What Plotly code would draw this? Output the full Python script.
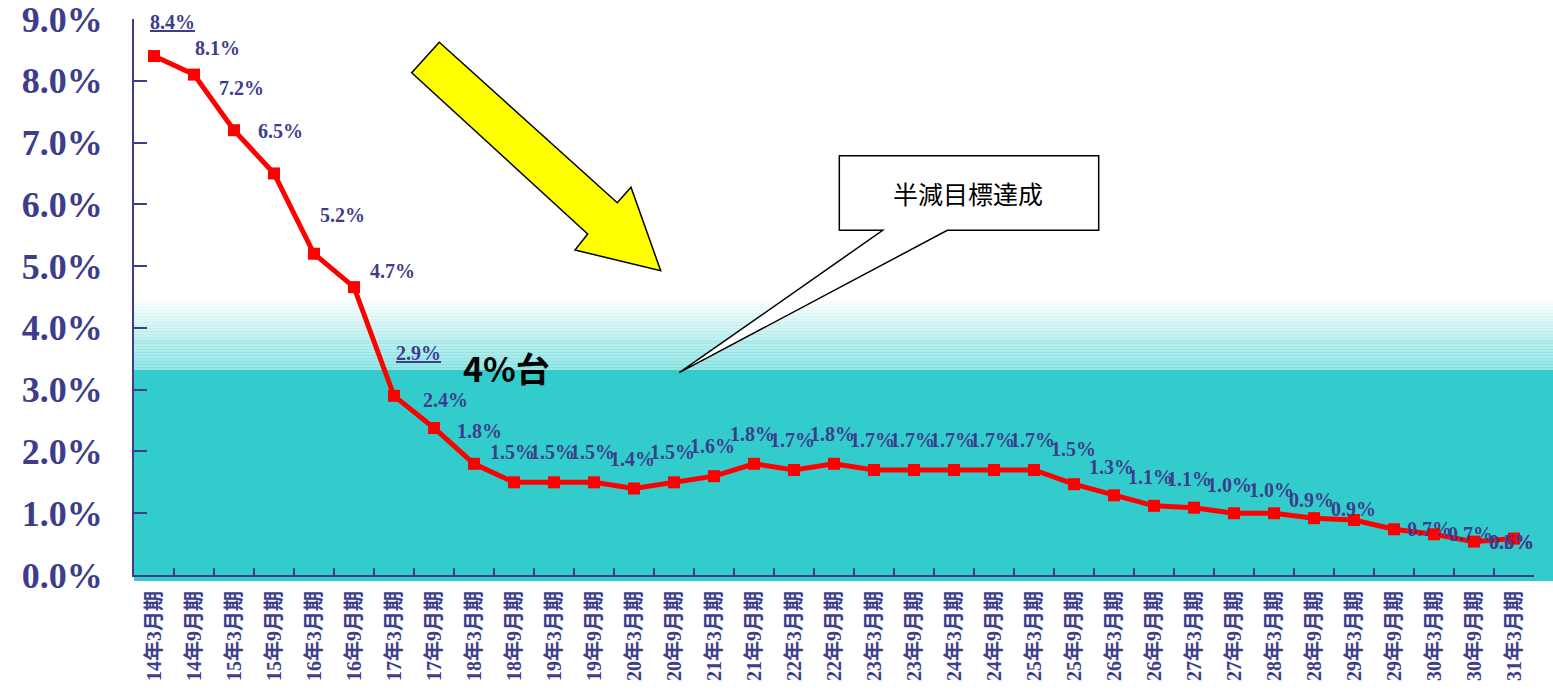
import plotly.graph_objects as go

# ---------------- data ----------------
periods = [
    "14年3月期", "14年9月期", "15年3月期", "15年9月期", "16年3月期", "16年9月期",
    "17年3月期", "17年9月期", "18年3月期", "18年9月期", "19年3月期", "19年9月期",
    "20年3月期", "20年9月期", "21年3月期", "21年9月期", "22年3月期", "22年9月期",
    "23年3月期", "23年9月期", "24年3月期", "24年9月期", "25年3月期", "25年9月期",
    "26年3月期", "26年9月期", "27年3月期", "27年9月期", "28年3月期", "28年9月期",
    "29年3月期", "29年9月期", "30年3月期", "30年9月期", "31年3月期",
]
ratio = [
    8.4, 8.1, 7.2, 6.5, 5.2, 4.66, 2.9, 2.38, 1.8, 1.5, 1.5, 1.5,
    1.4, 1.5, 1.6, 1.8, 1.7, 1.8, 1.7, 1.7, 1.7, 1.7, 1.7, 1.47,
    1.29, 1.12, 1.09, 1.0, 1.0, 0.92, 0.89, 0.74, 0.66, 0.54, 0.59,
]
y_ticks = [0, 1, 2, 3, 4, 5, 6, 7, 8, 9]
underlined = [0, 6]  # labels shown underlined (8.4%, 2.9%)
callout_text = "半減目標達成"
band_text = "4%台"

# ---------------- style ----------------
NAVY = "#3D3D8C"
TEAL = "#33CCCC"
SERIF = "Liberation Serif, Times New Roman, Noto Sans CJK JP, serif"
SANS = "Noto Sans CJK JP, Noto Sans, sans-serif"

W, H = 1553, 691
L, R, T, B = 134, 19, 19, 116
PW, PH = W - L - R, H - T - B


def px(x):
    return (x - L) / PW


def py(y):
    return (H - B - y) / PH


# label pixel shifts (dx right, dy up) relative to each point
label_shift = {
    0: (18, 34), 1: (23, 27), 2: (7, 42), 3: (6, 42), 4: (28, 39), 5: (38, 16),
    6: (24, 43), 7: (11, 28), 8: (5, 33), 23: (-1, 35), 24: (-3, 28),
    25: (-4, 29), 26: (-5, 29), 27: (-5, 28), 28: (-3, 23), 29: (-3, 18),
    30: (-1, 11), 31: (35, 0), 32: (36, 0), 33: (37, 0), 34: (-3, -3),
}

fig = go.Figure()
fig.add_trace(go.Scatter(
    x=periods, y=ratio, mode="lines+markers",
    line=dict(color="#FF0000", width=5),
    marker=dict(symbol="square", size=12, color="#FF0000"),
    hoverinfo="skip", showlegend=False,
))

annotations = []
for i, (p, v) in enumerate(zip(periods, ratio)):
    dx, dy = label_shift.get(i, (-2, 30))
    txt = f"{v:.1f}%"
    if i in underlined:
        txt = f"<u>{txt}</u>"
    annotations.append(dict(
        x=p, y=v, xref="x", yref="y", text=txt, showarrow=False,
        xshift=dx, yshift=dy, xanchor="center", yanchor="middle",
        font=dict(family=SERIF, size=20, color=NAVY, weight="bold"),
    ))

annotations.append(dict(
    x=px(506), y=py(367), xref="paper", yref="paper", text=band_text,
    showarrow=False, xanchor="center", yanchor="middle",
    font=dict(family=SANS, size=34, color="#000000", weight="bold"),
))
annotations.append(dict(
    x=px(968), y=py(193), xref="paper", yref="paper", text=callout_text,
    showarrow=False, xanchor="center", yanchor="middle",
    font=dict(family=SANS, size=25, color="#000000"),
))

shapes = []
# gradient band above the teal area
top, bot = 298, 370
n = 24
step = (bot - top) / n
for k in range(n):
    y0 = top + k * step
    y1 = y0 + step + 0.5
    a = 0.02 + 0.48 * (k / (n - 1))
    shapes.append(dict(
        type="rect", xref="paper", yref="paper",
        x0=px(134), x1=px(1553), y0=py(y1), y1=py(y0),
        fillcolor=TEAL, opacity=a, line=dict(width=0), layer="below",
    ))
shapes.append(dict(
    type="line", xref="paper", yref="paper",
    x0=px(134), x1=px(1553), y0=py(342), y1=py(342),
    line=dict(color=TEAL, width=1), opacity=0.25, layer="below",
))
# solid teal area
shapes.append(dict(
    type="rect", xref="paper", yref="paper",
    x0=px(134), x1=px(1553), y0=py(581), y1=py(370),
    fillcolor=TEAL, line=dict(width=0), layer="below",
))


def path(points):
    return "M " + " L ".join(f"{px(a):.5f},{py(b):.5f}" for a, b in points) + " Z"


arrow_pts = [(439.3, 42.3), (411.7, 72.7), (587.7, 234), (575, 250),
             (660.7, 270.7), (631, 187.3), (617.3, 202.7)]
shapes.append(dict(
    type="path", xref="paper", yref="paper", path=path(arrow_pts),
    fillcolor="#FFFF00", line=dict(color="#000000", width=1.5), layer="above",
))
callout_pts = [(839.3, 155.7), (1098.7, 155.7), (1098.7, 230.3), (947.3, 230.3),
               (679.3, 372.7), (882.7, 230.3), (839.3, 230.3)]
shapes.append(dict(
    type="path", xref="paper", yref="paper", path=path(callout_pts),
    fillcolor="#FFFFFF", line=dict(color="#000000", width=1.5), layer="above",
))

fig.update_layout(
    width=W, height=H,
    margin=dict(l=L, r=R, t=T, b=B, pad=0),
    paper_bgcolor="#FFFFFF", plot_bgcolor="rgba(0,0,0,0)",
    shapes=shapes, annotations=annotations,
    xaxis=dict(
        type="category", categoryorder="array", categoryarray=periods,
        range=[-0.5, len(periods) - 0.5], automargin=False,
        showline=True, linecolor=NAVY, linewidth=2,
        ticks="inside", ticklen=7, tickwidth=1.5, tickcolor=NAVY,
        tickson="boundaries", showgrid=False, zeroline=False,
        tickangle=-90, ticklabelstandoff=6,
        tickfont=dict(family=SERIF, size=20, color=NAVY, weight="bold"),
    ),
    yaxis=dict(
        range=[0, 9], tickmode="array", tickvals=y_ticks, automargin=False,
        ticktext=[f"{t:.1f}%" for t in y_ticks],
        showline=True, linecolor=NAVY, linewidth=2,
        ticks="inside", ticklen=13, tickwidth=1.5, tickcolor=NAVY,
        showgrid=False, zeroline=False, ticklabelstandoff=22,
        ticklabeloverflow="allow",
        tickfont=dict(family=SERIF, size=36, color=NAVY, weight="bold"),
    ),
)

fig.write_html("out.html")
